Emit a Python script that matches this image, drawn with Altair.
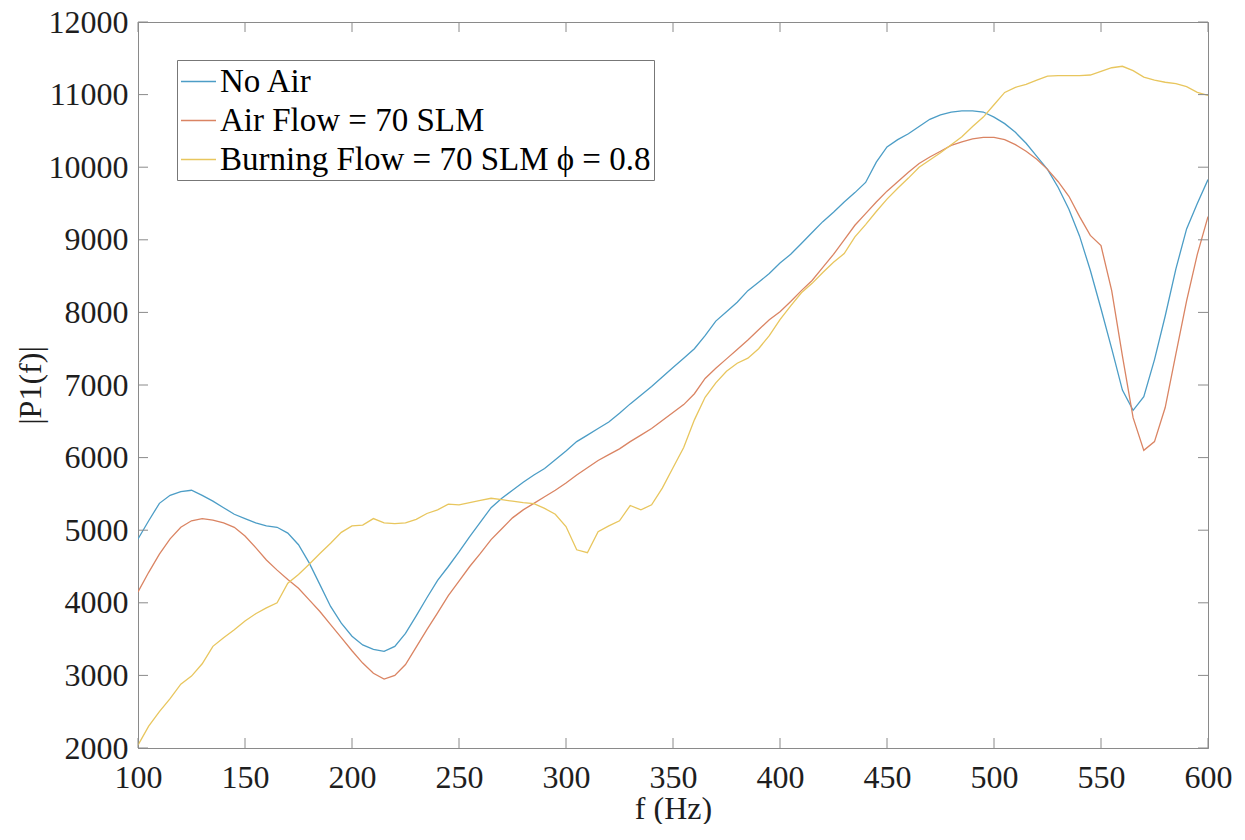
import altair as alt
import pandas as pd

freq = list(range(100, 605, 5))

no_air = [4880, 5130, 5370, 5480, 5530, 5550, 5480, 5400, 5310, 5220,
          5160, 5100, 5060, 5040, 4960, 4800, 4550, 4250, 3950, 3720,
          3540, 3420, 3360, 3330, 3400, 3580, 3820, 4070, 4310, 4500,
          4700, 4910, 5110, 5310, 5440, 5550, 5660, 5760, 5850, 5970,
          6090, 6220, 6310, 6400, 6490, 6610, 6740, 6860, 6980, 7110,
          7240, 7370, 7500, 7680, 7880, 8010, 8140, 8300, 8415, 8535,
          8680, 8800, 8950, 9100, 9250, 9380, 9520, 9650, 9790, 10070,
          10280, 10380, 10460, 10560, 10660, 10720, 10760, 10775, 10775, 10760,
          10690, 10600, 10480, 10330, 10150, 9970, 9720, 9420, 9050, 8580,
          8050, 7500, 6930, 6650, 6840, 7350, 7950, 8600, 9150, 9500,
          9830]

air_flow = [4150, 4420, 4670, 4880, 5040, 5130, 5160, 5140, 5100, 5040,
            4920, 4760, 4590, 4450, 4320, 4200, 4040, 3880, 3700, 3520,
            3340, 3170, 3030, 2950, 3000, 3150, 3390, 3630, 3860, 4100,
            4300, 4500, 4680, 4870, 5020, 5170, 5280, 5370, 5460, 5550,
            5650, 5760, 5860, 5960, 6040, 6120, 6220, 6310, 6400, 6510,
            6620, 6730, 6880, 7090, 7230, 7360, 7490, 7620, 7760, 7900,
            8010, 8150, 8300, 8440, 8620, 8800, 9000, 9200, 9360, 9520,
            9670, 9800, 9930, 10050, 10140, 10220, 10300, 10350, 10390, 10410,
            10410, 10380, 10310, 10220, 10110, 9970, 9800, 9600, 9320, 9060,
            8920, 8300, 7400, 6550, 6100, 6220, 6690, 7430, 8160, 8800,
            9320]

burning = [2040, 2300, 2500, 2680, 2880, 2990, 3160, 3400, 3520, 3630,
           3750, 3850, 3930, 4000, 4270, 4390, 4530, 4680, 4820, 4970,
           5060, 5070, 5160, 5100, 5090, 5100, 5150, 5230, 5280, 5360,
           5350, 5380, 5410, 5440, 5420, 5400, 5380, 5365, 5300, 5220,
           5050, 4730, 4690, 4980, 5060, 5130, 5340, 5280, 5350, 5580,
           5860, 6140, 6520, 6830, 7030, 7190, 7300, 7370, 7500, 7680,
           7900, 8090, 8270, 8400, 8550, 8690, 8810, 9040, 9210, 9390,
           9560, 9710, 9850, 10000, 10100, 10200, 10310, 10420, 10560, 10690,
           10860, 11030, 11100, 11140, 11200, 11255, 11262, 11262, 11262, 11270,
           11320, 11370, 11390, 11330, 11240, 11200, 11170, 11150, 11110, 11030,
           10990]

series_names = ["No Air", "Air Flow = 70 SLM", "Burning Flow = 70 SLM \u03d5 = 0.8"]
series_colors = ["#4c9dc6", "#da8463", "#e8c65e"]
x_ticks = list(range(100, 650, 50))
y_ticks = list(range(2000, 13000, 1000))

rows = []
for name, vals in zip(series_names, [no_air, air_flow, burning]):
    for f, v in zip(freq, vals):
        rows.append({"f": f, "P": v, "series": name})
df = pd.DataFrame(rows)

W, H = 1070, 726
FONT = "Liberation Serif"
GRAY = "#8a8a8a"
TXT = "#1e1e1e"
TL = 10

xs = alt.Scale(domain=[100, 600], nice=False, zero=False)
ys = alt.Scale(domain=[2000, 12000], nice=False, zero=False)

x_axis = alt.Axis(values=x_ticks, title="f (Hz)", labelPadding=14,
                  labelFlush=False, labelOverlap=False,
                  titleY=70, titleBaseline="alphabetic",
                  format="d")
y_axis = alt.Axis(values=y_ticks, title="|P1(f)|", labelPadding=10,
                  labelFlush=False, labelOverlap=False,
                  titleX=-98, titleY=H / 2, titleBaseline="alphabetic",
                  format="d")

lines = alt.Chart(df).mark_line(strokeWidth=1.3, clip=True).encode(
    x=alt.X("f:Q", scale=xs, axis=x_axis, title="f (Hz)"),
    y=alt.Y("P:Q", scale=ys, axis=y_axis, title="|P1(f)|"),
    color=alt.Color("series:N",
                    scale=alt.Scale(domain=series_names, range=series_colors),
                    sort=series_names,
                    legend=alt.Legend(orient="none", legendX=39, legendY=38,
                                      title=None, symbolType="stroke",
                                      symbolSize=1225, symbolStrokeWidth=1.3,
                                      labelFont=FONT, labelFontSize=33,
                                      labelColor="#000000", labelOffset=3,
                                      labelLimit=0, strokeColor="#777777",
                                      fillColor="white", padding=3,
                                      rowPadding=3)),
)

xt_df = pd.DataFrame({"f": x_ticks})
yt_df = pd.DataFrame({"P": y_ticks})

xt_bottom = alt.Chart(xt_df).mark_rule(color=GRAY, strokeWidth=1).encode(
    x=alt.X("f:Q", scale=xs, axis=x_axis, title="f (Hz)"),
    y=alt.value(H), y2=alt.value(H - TL))
xt_top = alt.Chart(xt_df).mark_rule(color=GRAY, strokeWidth=1).encode(
    x=alt.X("f:Q", scale=xs, axis=x_axis, title="f (Hz)"),
    y=alt.value(0), y2=alt.value(TL))
yt_left = alt.Chart(yt_df).mark_rule(color=GRAY, strokeWidth=1).encode(
    y=alt.Y("P:Q", scale=ys, axis=y_axis, title="|P1(f)|"),
    x=alt.value(0), x2=alt.value(TL))
yt_right = alt.Chart(yt_df).mark_rule(color=GRAY, strokeWidth=1).encode(
    y=alt.Y("P:Q", scale=ys, axis=y_axis, title="|P1(f)|"),
    x=alt.value(W), x2=alt.value(W - TL))

chart = alt.layer(lines, xt_bottom, xt_top, yt_left, yt_right).properties(
    width=W, height=H,
    autosize=alt.AutoSizeParams(type="none"),
    padding={"left": 130, "top": 14, "right": 28, "bottom": 76},
    background="white",
).configure_view(
    stroke=GRAY, strokeWidth=1
).configure_axis(
    grid=False, ticks=False, tickSize=0, domainColor=GRAY, domainWidth=1,
    labelFont=FONT, labelFontSize=32, labelColor=TXT,
    titleFont=FONT, titleFontSize=32, titleFontWeight="normal", titleColor=TXT,
)

chart.save("out.html", embed_options={"renderer": "svg", "actions": False})
